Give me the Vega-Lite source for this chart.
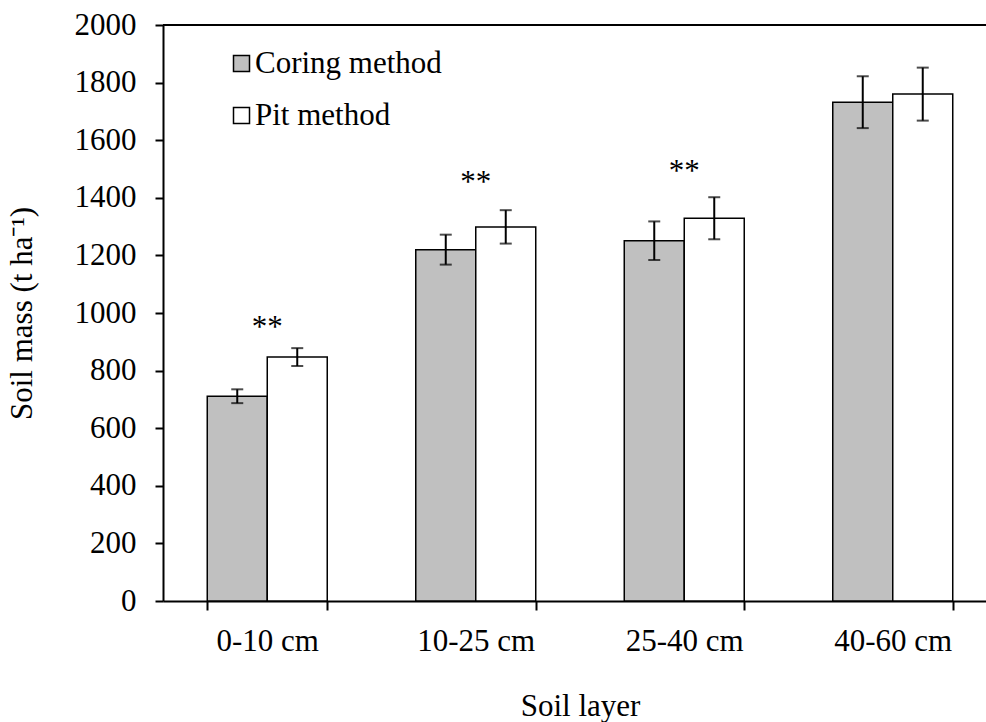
{
  "$schema": "https://vega.github.io/schema/vega-lite/v6.json",
  "width": 823,
  "height": 576,
  "autosize": {"type": "none"},
  "padding": {"left": 163, "top": 25, "right": 0, "bottom": 121},
  "background": "white",
  "config": {
    "view": {"stroke": null},
    "font": "Liberation Serif",
    "axis": {
      "domainColor": "black",
      "domainWidth": 2,
      "tickColor": "black",
      "tickWidth": 2,
      "labelColor": "black",
      "labelFontSize": 31,
      "titleColor": "black",
      "titleFontSize": 31,
      "titleFontWeight": "normal",
      "grid": false
    }
  },
  "data": {
    "values": [
      {"layer": "0-10 cm", "method": "Coring method", "mass": 711, "low": 687, "high": 735},
      {"layer": "0-10 cm", "method": "Pit method", "mass": 847, "low": 816, "high": 878},
      {"layer": "10-25 cm", "method": "Coring method", "mass": 1220, "low": 1168, "high": 1272},
      {"layer": "10-25 cm", "method": "Pit method", "mass": 1299, "low": 1241, "high": 1357},
      {"layer": "25-40 cm", "method": "Coring method", "mass": 1251, "low": 1184, "high": 1318},
      {"layer": "25-40 cm", "method": "Pit method", "mass": 1329, "low": 1256, "high": 1402},
      {"layer": "40-60 cm", "method": "Coring method", "mass": 1732, "low": 1642, "high": 1822},
      {"layer": "40-60 cm", "method": "Pit method", "mass": 1760, "low": 1668, "high": 1852}
    ]
  },
  "layer": [
    {
      "mark": {"type": "bar", "stroke": "black", "strokeWidth": 1.5},
      "encoding": {
        "x": {
          "field": "layer",
          "type": "nominal",
          "sort": ["0-10 cm", "10-25 cm", "25-40 cm", "40-60 cm"],
          "scale": {"range": [0, 834], "paddingInner": 0.4245, "paddingOuter": 0.21225},
          "axis": {
            "title": "Soil layer",
            "labelAngle": 0,
            "tickBand": "extent",
            "tickSize": 9,
            "labelPadding": 16,
            "titlePadding": 35
          }
        },
        "xOffset": {"field": "method", "type": "nominal", "sort": ["Coring method", "Pit method"], "scale": {"paddingInner": 0, "paddingOuter": 0}},
        "y": {
          "field": "mass",
          "type": "quantitative",
          "scale": {"domain": [0, 2000]},
          "axis": {
            "title": "Soil mass (t ha⁻¹)",
            "format": "d",
            "values": [0, 200, 400, 600, 800, 1000, 1200, 1400, 1600, 1800, 2000],
            "tickSize": 8,
            "labelPadding": 19,
            "titlePadding": 36
          }
        },
        "fill": {
          "field": "method",
          "type": "nominal",
          "scale": {"domain": ["Coring method", "Pit method"], "range": ["#c0c0c0", "#ffffff"]},
          "legend": {
            "title": null,
            "orient": "none",
            "legendX": 63,
            "legendY": 23,
            "padding": 0,
            "symbolType": "square",
            "symbolSize": 256,
            "symbolStrokeColor": "black",
            "symbolStrokeWidth": 1.5,
            "symbolOpacity": 1,
            "labelFontSize": 31,
            "labelColor": "black",
            "labelLimit": 0,
            "labelOffset": -2,
            "rowPadding": 20
          }
        }
      }
    },
    {
      "mark": {"type": "rule", "color": "black", "strokeWidth": 2},
      "encoding": {"y": {"datum": 2000, "type": "quantitative"}}
    },
    {
      "mark": {"type": "rule", "color": "black", "strokeWidth": 2},
      "encoding": {
        "x": {"field": "layer", "type": "nominal", "sort": ["0-10 cm", "10-25 cm", "25-40 cm", "40-60 cm"]},
        "xOffset": {"field": "method", "type": "nominal", "sort": ["Coring method", "Pit method"]},
        "y": {"field": "low", "type": "quantitative"},
        "y2": {"field": "high"}
      }
    },
    {
      "mark": {"type": "tick", "color": "black", "size": 12, "thickness": 2, "orient": "horizontal"},
      "encoding": {
        "x": {"field": "layer", "type": "nominal", "sort": ["0-10 cm", "10-25 cm", "25-40 cm", "40-60 cm"]},
        "xOffset": {"field": "method", "type": "nominal", "sort": ["Coring method", "Pit method"]},
        "y": {"field": "low", "type": "quantitative"}
      }
    },
    {
      "mark": {"type": "tick", "color": "black", "size": 12, "thickness": 2, "orient": "horizontal"},
      "encoding": {
        "x": {"field": "layer", "type": "nominal", "sort": ["0-10 cm", "10-25 cm", "25-40 cm", "40-60 cm"]},
        "xOffset": {"field": "method", "type": "nominal", "sort": ["Coring method", "Pit method"]},
        "y": {"field": "high", "type": "quantitative"}
      }
    },
    {
      "data": {
        "values": [
          {"layer": "0-10 cm", "pos": 970, "label": "**"},
          {"layer": "10-25 cm", "pos": 1471, "label": "**"},
          {"layer": "25-40 cm", "pos": 1511, "label": "**"}
        ]
      },
      "mark": {"type": "text", "color": "black", "fontSize": 31, "baseline": "middle", "dy": 6},
      "encoding": {
        "x": {"field": "layer", "type": "nominal", "sort": ["0-10 cm", "10-25 cm", "25-40 cm", "40-60 cm"]},
        "y": {"field": "pos", "type": "quantitative"},
        "text": {"field": "label"}
      }
    }
  ]
}
